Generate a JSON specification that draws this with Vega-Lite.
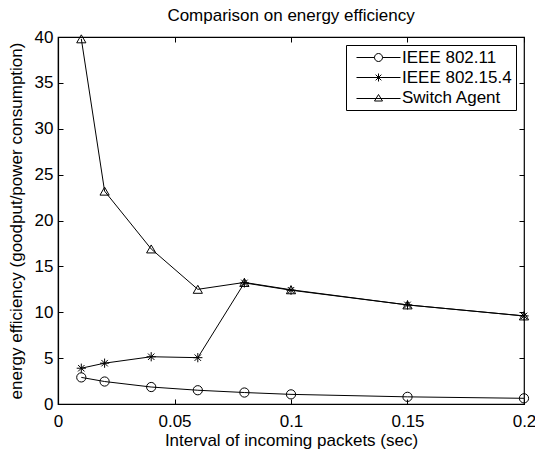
{
  "$schema": "https://vega.github.io/schema/vega-lite/v6.json",
  "width": 466,
  "height": 367,
  "autosize": {"type": "none"},
  "padding": {"left": 58, "top": 37, "right": 11, "bottom": 46},
  "background": "white",
  "config": {
    "font": "Liberation Sans",
    "view": {"stroke": "black", "strokeWidth": 1.2},
    "axis": {"grid": false, "labelFlush": false, "labelFont": "Liberation Sans", "titleFont": "Liberation Sans", "labelFontSize": 17, "titleFontSize": 17, "labelColor": "black", "titleColor": "black", "titleFontWeight": "normal", "domainColor": "black", "tickColor": "black", "tickSize": -5, "domainWidth": 1.2}
  },
  "title": {"text": "Comparison on energy efficiency", "fontSize": 17, "fontWeight": "normal", "font": "Liberation Sans", "color": "black", "offset": 3},
  "data": {
    "values": [
      {"series": "IEEE 802.11", "x": 0.01, "y": 2.9},
      {"series": "IEEE 802.11", "x": 0.02, "y": 2.45},
      {"series": "IEEE 802.11", "x": 0.04, "y": 1.85},
      {"series": "IEEE 802.11", "x": 0.06, "y": 1.5},
      {"series": "IEEE 802.11", "x": 0.08, "y": 1.25},
      {"series": "IEEE 802.11", "x": 0.1, "y": 1.05},
      {"series": "IEEE 802.11", "x": 0.15, "y": 0.78},
      {"series": "IEEE 802.11", "x": 0.2, "y": 0.62},
      {"series": "IEEE 802.15.4", "x": 0.01, "y": 3.9},
      {"series": "IEEE 802.15.4", "x": 0.02, "y": 4.45},
      {"series": "IEEE 802.15.4", "x": 0.04, "y": 5.15},
      {"series": "IEEE 802.15.4", "x": 0.06, "y": 5.05},
      {"series": "IEEE 802.15.4", "x": 0.08, "y": 13.2},
      {"series": "IEEE 802.15.4", "x": 0.1, "y": 12.4},
      {"series": "IEEE 802.15.4", "x": 0.15, "y": 10.8},
      {"series": "IEEE 802.15.4", "x": 0.2, "y": 9.6},
      {"series": "Switch Agent", "x": 0.01, "y": 39.8},
      {"series": "Switch Agent", "x": 0.02, "y": 23.2},
      {"series": "Switch Agent", "x": 0.04, "y": 16.9},
      {"series": "Switch Agent", "x": 0.06, "y": 12.5},
      {"series": "Switch Agent", "x": 0.08, "y": 13.25},
      {"series": "Switch Agent", "x": 0.1, "y": 12.45},
      {"series": "Switch Agent", "x": 0.15, "y": 10.8},
      {"series": "Switch Agent", "x": 0.2, "y": 9.6}
    ]
  },
  "resolve": {"axis": {"x": "independent", "y": "independent"}, "scale": {"shape": "independent"}},
  "layer": [
    {
      "mark": {"type": "line", "color": "black", "strokeWidth": 1},
      "encoding": {
        "x": {"field": "x", "type": "quantitative", "scale": {"domain": [0, 0.2], "nice": false}, "axis": {"values": [0, 0.05, 0.1, 0.15, 0.2], "format": "~g", "title": "Interval of incoming packets (sec)", "labelPadding": 14, "titlePadding": 3}},
        "y": {"field": "y", "type": "quantitative", "scale": {"domain": [0, 40], "nice": false}, "axis": {"values": [0, 5, 10, 15, 20, 25, 30, 35, 40], "title": "energy efficiency (goodput/power consumption)", "labelPadding": 10, "titlePadding": 9}},
        "detail": {"field": "series"}
      }
    },
    {
      "mark": {"type": "point", "filled": false, "color": "black", "strokeWidth": 1, "size": 85, "opacity": 1},
      "encoding": {
        "x": {"field": "x", "type": "quantitative", "axis": {"orient": "top", "values": [0, 0.05, 0.1, 0.15, 0.2], "labels": false, "domain": false, "title": null}},
        "y": {"field": "y", "type": "quantitative", "axis": {"orient": "right", "values": [0, 5, 10, 15, 20, 25, 30, 35, 40], "labels": false, "domain": false, "title": null}},
        "shape": {
          "field": "series", "type": "nominal", "legend": null,
          "scale": {"domain": ["IEEE 802.11", "IEEE 802.15.4", "Switch Agent"], "range": ["circle", "M-1,0H1M0,-1V1M-0.7,-0.7L0.7,0.7M-0.7,0.7L0.7,-0.7", "triangle-up"]}
        }
      }
    },
    {
      "transform": [{"filter": "false"}],
      "mark": {"type": "point", "filled": false, "color": "black", "strokeWidth": 1, "size": 100},
      "encoding": {
        "x": {"field": "x", "type": "quantitative", "axis": null},
        "y": {"field": "y", "type": "quantitative", "axis": null},
        "shape": {
          "field": "series", "type": "nominal",
          "scale": {"domain": ["IEEE 802.11", "IEEE 802.15.4", "Switch Agent"], "range": ["M-4.4,0H-0.8M0.8,0H4.4M0.8,0A0.8,0.8,0,1,1,-0.8,0A0.8,0.8,0,1,1,0.8,0", "M-4.4,0H4.4M0,-0.8V0.8M-0.57,-0.57L0.57,0.57M-0.57,0.57L0.57,-0.57", "M-4.4,0.2H4.4M0,-0.6L-0.8,0.7L0.8,0.7Z"]},
          "legend": {
            "title": null,
            "orient": "top-right",
            "offset": 8,
            "fillColor": "white",
            "strokeColor": "black",
            "padding": 4,
            "labelFontSize": 17,
            "labelFont": "Liberation Sans",
            "labelColor": "black",
            "symbolSize": 100,
            "symbolOffset": 20,
            "labelOffset": 15,
            "rowPadding": 2,
            "symbolStrokeColor": "black",
            "symbolFillColor": "transparent",
            "symbolStrokeWidth": 1,
            "symbolOpacity": 1
          }
        }
      }
    }
  ]
}
